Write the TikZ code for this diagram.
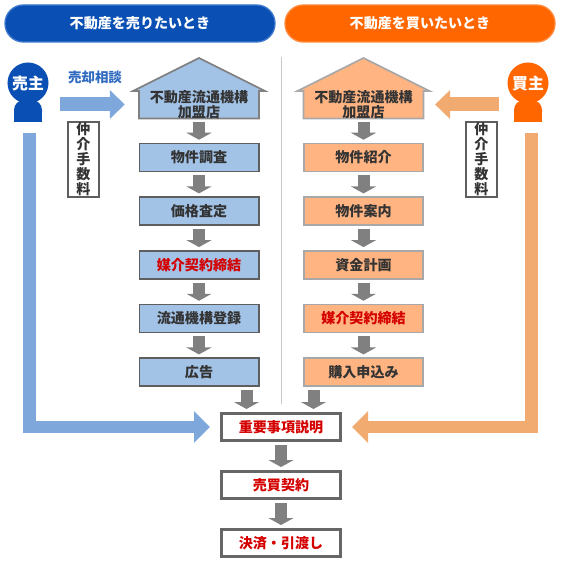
\documentclass[tikz,border=0pt]{standalone}
\usepackage{fontspec}
\setmainfont{Noto Sans CJK JP}
\usetikzlibrary{positioning,calc,arrows.meta}

\definecolor{uriDark}{HTML}{0A50B4}
\definecolor{uriRim}{HTML}{3C78CC}
\definecolor{uriFill}{HTML}{A2C2E6}
\definecolor{uriEdge}{HTML}{5E5E5E}
\definecolor{uriArrow}{HTML}{7EA7DC}
\definecolor{kaiDark}{HTML}{FF6600}
\definecolor{kaiRim}{HTML}{FF8A3C}
\definecolor{kaiFill}{HTML}{FFB482}
\definecolor{kaiEdge}{HTML}{A8A8A8}
\definecolor{kaiArrow}{HTML}{F1AA70}
\definecolor{flowGray}{HTML}{808080}
\definecolor{lineGray}{HTML}{C8C8C8}
\definecolor{txt}{HTML}{333333}
\definecolor{keyRed}{HTML}{D40000}
\definecolor{keyEdge}{HTML}{666666}

\tikzset{
  banner/.style={draw, line width=0.4mm, rounded corners=5.5mm, minimum width=8.1cm,
    minimum height=11.1mm, text=white, font=\fontsize{12}{14}\selectfont\bfseries},
  box/.style={minimum width=3.58cm, minimum height=8.4mm, inner sep=0pt, line width=0.5mm,
    text=txt, font=\fontsize{12}{14}\selectfont\bfseries},
  sellbox/.style={box, draw=uriEdge, fill=uriFill},
  sellhot/.style={sellbox, text=keyRed},
  buybox/.style={box, draw=kaiEdge, fill=kaiFill},
  buyhot/.style={buybox, text=keyRed},
  keybox/.style={box, draw=keyEdge, fill=white, line width=0.9mm, minimum width=3.57cm,
    minimum height=8.1mm, text=keyRed},
  housetext/.style={align=center, inner sep=0pt, minimum width=3.6cm, minimum height=8.1mm,
    text=txt, font=\fontsize{12}{11.5}\selectfont\bfseries},
  icon/.style={circle, inner sep=0pt, minimum size=12.3mm, text=white,
    font=\fontsize{13.5}{15}\selectfont\bfseries},
  feebox/.style={draw=uriEdge, line width=0.35mm, fill=white, align=center, inner sep=0pt,
    minimum width=9.3mm, minimum height=22.5mm, text=txt, font=\fontsize{12}{12.8}\selectfont\bfseries},
  flow/.style={draw=flowGray, line width=3.6mm, -{Triangle[length=2.1mm, width=7.5mm]},
    shorten <=0.9mm, shorten >=0.9mm},
  side/.style={line width=4.2mm, -{Triangle[length=4.5mm, width=8.4mm]}},
  big/.style={line width=3.75mm, line join=miter, -{Triangle[length=4.8mm, width=9.3mm]},
    shorten >=3mm}
}

% house outline of a member shop, centred on the text
\newcommand{\tenpo}[3]{%
  \begin{scope}[shift={(#1)}]
    \filldraw[fill=#2, draw=#3, line width=0.5mm, line join=miter]
      (-60,14) -- (-60,-13.5) -- (-66,-13.5) -- (0,-46.5) -- (66,-13.5) -- (60,-13.5) -- (60,14) -- cycle;
  \end{scope}}
% person icon: name, position, colour, text
\newcommand{\nushi}[4]{%
  \fill[#3, rounded corners=3mm] ($(#2)+(-14,39)$) rectangle ($(#2)+(14,17)$);
  \fill[#3] ($(#2)+(-14,39)$) rectangle ($(#2)+(14,29)$);
  \node[icon, fill=#3] (#1) at (#2) {#4};}

\begin{document}
\begin{tikzpicture}[x=0.03cm, y=-0.03cm, node distance=7.2mm]
  \useasboundingbox (0,0) rectangle (560,570);
  % banners
  \node[banner, fill=uriDark, draw=uriRim] (uriBar) at (140,23.5) {不動産を売りたいとき};
  \node[banner, fill=kaiDark, draw=kaiRim] (kaiBar) at (420,23.5) {不動産を買いたいとき};
  \draw[lineGray, line width=0.3mm] (281,57) -- (281,404);

  % member shops
  \tenpo{199,104.5}{uriFill}{flowGray}
  \tenpo{363.5,104.5}{kaiFill}{kaiEdge}
  \node[housetext] (hL) at (199,104.5) {不動産流通機構\\加盟店};
  \node[housetext] (hR) at (363.5,104.5) {不動産流通機構\\加盟店};

  % seller side
  \foreach \n/\s/\t [remember=\n as \p (initially hL)] in {uA/sellbox/物件調査,
      uB/sellbox/価格査定, uC/sellhot/媒介契約締結, uD/sellbox/流通機構登録, uE/sellbox/広告}
    {\node[\s, below=of \p] (\n) {\t}; \draw[flow] (\p) -- (\n);}
  % buyer side
  \foreach \n/\s/\t [remember=\n as \p (initially hR)] in {kA/buybox/物件紹介,
      kB/buybox/物件案内, kC/buybox/資金計画, kD/buyhot/媒介契約締結, kE/buybox/購入申込み}
    {\node[\s, below=of \p] (\n) {\t}; \draw[flow] (\p) -- (\n);}

  % common steps
  \node[keybox] (jyuyo) at (281,427) {重要事項説明};
  \node[keybox, below=8.4mm of jyuyo] (baibai) {売買契約};
  \node[keybox, below=8.4mm of baibai] (kessai) {決済・引渡し};
  \draw[flow] (jyuyo) -- (baibai);
  \draw[flow] (baibai) -- (kessai);
  \coordinate (inL) at ($(jyuyo.north)+(-34.5,0)$);
  \coordinate (inR) at ($(jyuyo.north)+(32.5,0)$);
  \draw[flow] (uE.south -| inL) -- (inL);
  \draw[flow] (kE.south -| inR) -- (inR);

  % seller and buyer
  \nushi{uri}{28,83}{uriDark}{売主}
  \nushi{kai}{528,83}{kaiDark}{買主}
  \draw[big, uriArrow] ($(uri)+(1.5,50)$) |- (jyuyo.west);
  \draw[big, kaiArrow] ($(kai)+(3.5,50)$) |- (jyuyo.east);
  \draw[side, uriArrow, shorten <=3.3mm, shorten >=4.2mm] (uri.east |- hL) -- (hL.west);
  \draw[side, kaiArrow, shorten <=2.4mm, shorten >=3.4mm] (kai.west |- hR) -- (hR.east);
  \node[text=uriDark!85!white, font=\fontsize{11.5}{13}\selectfont\bfseries] (soudan) at (95,77) {売却相談};
  \node[feebox] (feeL) at (83.5,159.5) {仲\\介\\手\\数\\料};
  \node[feebox] (feeR) at (481.5,159.5) {仲\\介\\手\\数\\料};
\end{tikzpicture}
\end{document}
